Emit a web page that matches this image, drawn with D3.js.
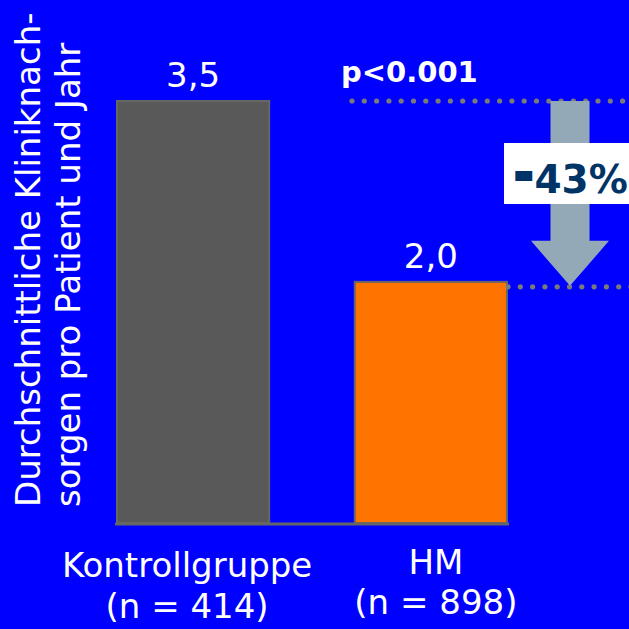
<!DOCTYPE html>
<html>
<head>
<meta charset="utf-8">
<script src="https://cdn.jsdelivr.net/npm/d3@7"></script>
<style>
  html, body { margin: 0; padding: 0; background: #0000ff; }
  svg { display: block; }
  text { font-family: "DejaVu Sans", Verdana, sans-serif; }
</style>
</head>
<body>
<svg id="chart" width="629" height="629"></svg>
<script>
// Average clinic aftercare visits per patient and year
const categories = ["Kontrollgruppe", "HM"];
const groupSizes = ["(n = 414)", "(n = 898)"];
const values = [3.5, 2.0];
const valueLabels = ["3,5", "2,0"];
const barColors = ["#595959", "#ff7400"];
const yTitle = ["Durchschnittliche Kliniknach-", "sorgen pro Patient und Jahr"];
const pLabel = "p<0.001";
const changeLabel = "-43%";

(function draw() {
  const svg = d3.select("#chart");
  const W = 629, H = 629;

  svg.append("rect").attr("width", W).attr("height", H).attr("fill", "#0000ff");

  const baseY = 523;
  const y = d3.scaleLinear().domain([0, 3.5]).range([baseY, 101]);
  const x = d3.scaleBand().domain(categories).range([117, 507]).paddingInner(0.36).paddingOuter(0);

  // bars
  svg.selectAll("rect.bar").data(values).join("rect")
    .attr("class", "bar")
    .attr("x", (d, i) => x(categories[i]))
    .attr("y", d => y(d))
    .attr("width", x.bandwidth())
    .attr("height", d => baseY - y(d))
    .attr("fill", (d, i) => barColors[i])
    .attr("stroke", "#666666")
    .attr("stroke-width", 2);

  // baseline
  svg.append("line")
    .attr("x1", 115).attr("x2", 509)
    .attr("y1", baseY + 1).attr("y2", baseY + 1)
    .attr("stroke", "#666666").attr("stroke-width", 3);

  // value labels
  svg.selectAll("text.val").data(values).join("text")
    .attr("class", "val")
    .attr("x", (d, i) => x(categories[i]) + x.bandwidth() / 2)
    .attr("y", d => y(d) - 14)
    .attr("text-anchor", "middle")
    .attr("fill", "#ffffff")
    .attr("font-size", 34)
    .text((d, i) => valueLabels[i]);

  // category labels
  const shift = [-6, 5];
  const catG = svg.selectAll("g.cat").data(categories).join("g").attr("class", "cat");
  catG.append("text")
    .attr("x", (d, i) => x(d) + x.bandwidth() / 2 + shift[i])
    .attr("y", (d, i) => i === 0 ? 577 : 574)
    .attr("text-anchor", "middle").attr("fill", "#ffffff").attr("font-size", 34)
    .text(d => d);
  catG.append("text")
    .attr("x", (d, i) => x(d) + x.bandwidth() / 2 + shift[i])
    .attr("y", (d, i) => i === 0 ? 618 : 614)
    .attr("text-anchor", "middle").attr("fill", "#ffffff").attr("font-size", 34)
    .text((d, i) => groupSizes[i]);

  // y-axis title, rotated
  const yt = svg.append("text")
    .attr("transform", "translate(40,507) rotate(-90)")
    .attr("fill", "#ffffff").attr("font-size", 34);
  yt.selectAll("tspan").data(yTitle).join("tspan")
    .attr("x", 0).attr("dy", (d, i) => i === 0 ? 0 : 40)
    .text(d => d);

  // dotted reference lines at both bar heights
  function dots(x0, x1, yy) {
    const xs = d3.range(x0, x1, 12.3);
    svg.append("g").selectAll("circle").data(xs).join("circle")
      .attr("cx", d => d).attr("cy", yy).attr("r", 2.6).attr("fill", "#7a7a7a");
  }
  dots(352, 632, y(values[0]));
  dots(508, 632, y(values[1]) + 5);

  // arrow showing the reduction
  const ax = 570, yTop = y(values[0]), yTip = y(values[1]) + 4;
  svg.append("path")
    .attr("d", `M${ax - 19.5},${yTop} L${ax + 19.5},${yTop} L${ax + 19.5},${yTip - 45} L${ax + 39},${yTip - 45} L${ax},${yTip} L${ax - 39},${yTip - 45} L${ax - 19.5},${yTip - 45} Z`)
    .attr("fill", "#94a9b8");

  // percentage box
  svg.append("rect").attr("x", 504).attr("y", 143).attr("width", 130).attr("height", 61).attr("fill", "#ffffff");
  const pct = svg.append("text").attr("x", 515).attr("y", 193)
    .attr("fill", "#003366").attr("font-size", 39).attr("font-weight", "bold");
  pct.append("tspan").attr("dy", -5).attr("font-size", 42)
    .attr("stroke", "#003366").attr("stroke-width", 4).attr("stroke-linejoin", "miter")
    .text(changeLabel.slice(0, 1));
  pct.append("tspan").attr("dy", 5).attr("dx", 2).text(changeLabel.slice(1));

  // significance label
  svg.append("text").attr("x", 341).attr("y", 82)
    .attr("fill", "#ffffff").attr("font-size", 29).attr("font-weight", "bold")
    .text(pLabel);
})();
</script>
</body>
</html>
